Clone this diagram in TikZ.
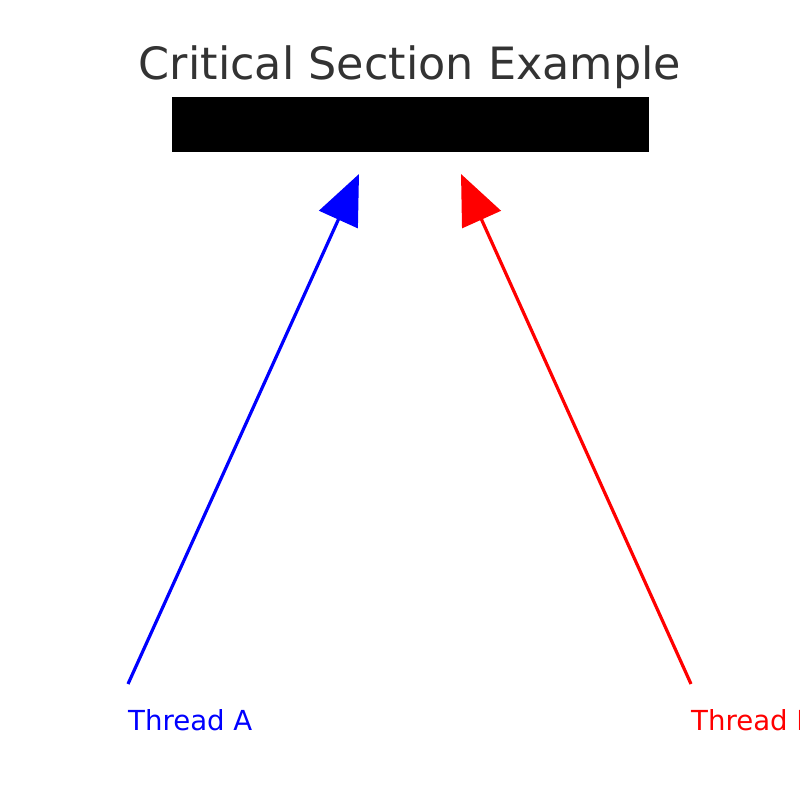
\documentclass[tikz,border=0pt]{standalone}
\usepackage{fontspec}
\setmainfont{DejaVu Sans}
\usetikzlibrary{arrows.meta}
\definecolor{titlegray}{HTML}{333333}
\tikzset{
  thread/.style={line width=3.2pt, -{Triangle[length=50pt,width=42pt]}},
  lbl/.style={anchor=base west, inner sep=0pt, font=\fontsize{27.6}{32}\selectfont},
}
\begin{document}
\begin{tikzpicture}[x=1pt,y=-1pt]
\useasboundingbox (0,0) rectangle (800,800);
\node[anchor=base, inner sep=0pt, text=titlegray, font=\fontsize{44.5}{52}\selectfont] (title) at (410,80) {Critical Section Example};
\node[fill=black, draw=black, minimum width=476pt, minimum height=54pt, inner sep=0pt, anchor=north west] (cs) at (172,97) {};
\coordinate (a0) at (128,684);
\coordinate (a1) at (359,174);
\coordinate (b0) at (691,684);
\coordinate (b1) at (461,174);
\draw[thread, blue] (a0) -- (a1);
\draw[thread, red] (b0) -- (b1);
\node[lbl, text=blue] (la) at (128,730) {Thread A};
\node[lbl, text=red] (lb) at (691,730) {Thread B};
\end{tikzpicture}
\end{document}
